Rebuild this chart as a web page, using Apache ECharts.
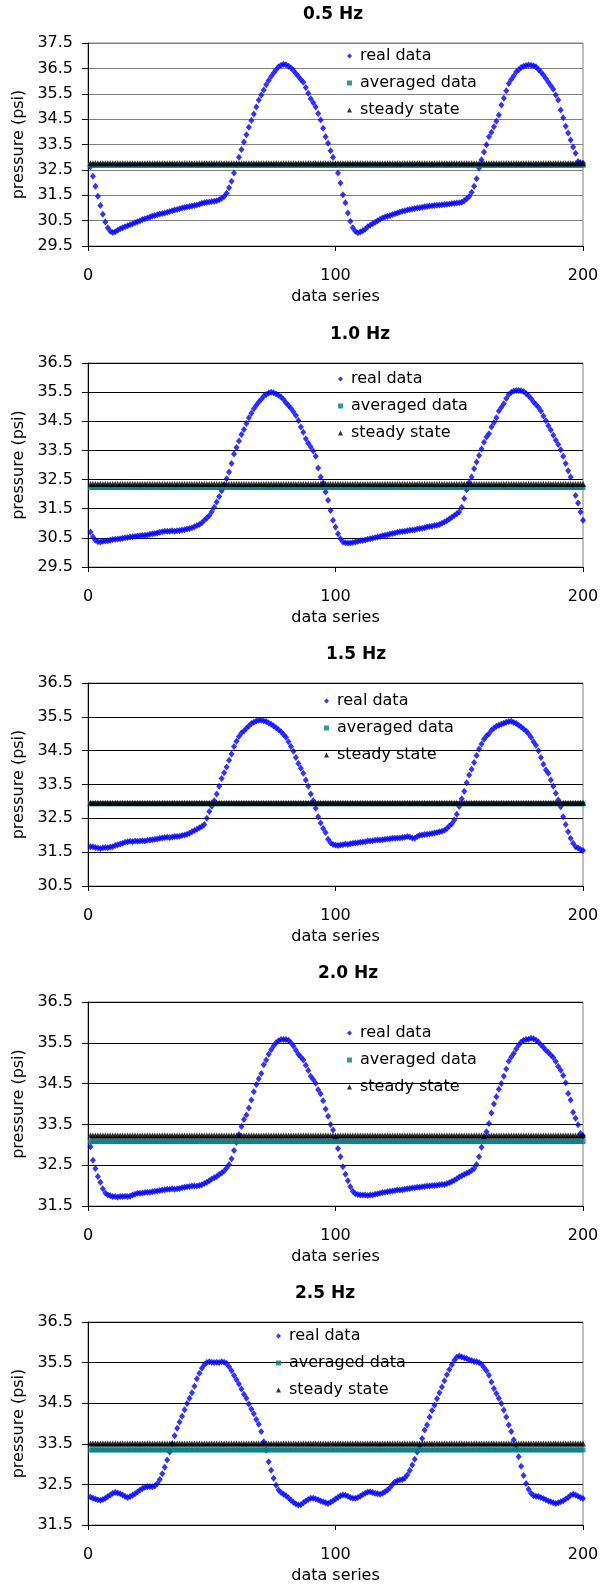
<!DOCTYPE html>
<html><head><meta charset="utf-8">
<script src="https://cdn.jsdelivr.net/npm/echarts@6/dist/echarts.min.js"></script>
<style>html,body{margin:0;padding:0;background:#fff}#c{width:602px;height:1589px}</style>
</head><body><div id="c"></div>
<script>
const titles = ['0.5 Hz', '1.0 Hz', '1.5 Hz', '2.0 Hz', '2.5 Hz'];
const yMins = [29.5, 29.5, 30.5, 31.5, 31.5];
const yMaxs = [37.5, 36.5, 36.5, 36.5, 36.5];
const xMin = 0, xMax = 200, xStep = 100;
const steadyLevels = [32.76, 32.35, 32.96, 33.23, 33.51];
const averagedLevels = [32.68, 32.23, 32.93, 33.08, 33.35];

const real05 = [
32.62,32.25,31.85,31.46,31.10,30.75,30.45,30.22,30.08,30.03,
30.06,30.12,30.18,30.22,30.26,30.30,30.34,30.38,30.42,30.46,
30.50,30.54,30.57,30.60,30.64,30.68,30.70,30.73,30.76,30.78,
30.80,30.83,30.86,30.89,30.92,30.94,30.97,31.00,31.02,31.04,
31.06,31.08,31.10,31.12,31.15,31.18,31.20,31.22,31.23,31.25,
31.26,31.28,31.32,31.38,31.45,31.58,31.80,32.05,32.38,32.70,
33.00,33.30,33.60,33.88,34.18,34.45,34.70,34.98,35.25,35.45,
35.65,35.85,36.02,36.18,36.32,36.45,36.56,36.62,36.66,36.64,
36.58,36.52,36.42,36.30,36.18,36.06,35.95,35.75,35.52,35.30,
35.15,34.98,34.72,34.47,34.14,33.81,33.55,33.25,33.00,32.70,
32.38,31.98,31.52,31.20,30.80,30.48,30.22,30.08,30.02,30.05,
30.10,30.16,30.26,30.32,30.38,30.44,30.50,30.55,30.60,30.64,
30.67,30.70,30.74,30.77,30.80,30.84,30.87,30.89,30.92,30.94,
30.96,30.98,31.00,31.01,31.03,31.05,31.06,31.08,31.09,31.10,
31.11,31.12,31.13,31.14,31.15,31.16,31.17,31.18,31.19,31.20,
31.22,31.28,31.36,31.45,31.62,31.85,32.15,32.57,32.90,33.20,
33.49,33.81,33.98,34.20,34.42,34.66,35.06,35.32,35.62,35.90,
36.06,36.20,36.36,36.45,36.53,36.58,36.61,36.63,36.62,36.60,
36.56,36.46,36.36,36.24,36.10,35.95,35.82,35.68,35.45,35.25,
34.86,34.55,34.22,33.95,33.68,33.40,33.16,32.83,32.78,32.76];

const real10 = [
30.70,30.53,30.42,30.37,30.36,30.38,30.39,30.40,30.42,30.44,
30.45,30.46,30.47,30.49,30.50,30.51,30.53,30.54,30.55,30.56,
30.57,30.58,30.59,30.60,30.62,30.64,30.65,30.67,30.69,30.71,
30.73,30.73,30.73,30.74,30.73,30.74,30.75,30.77,30.78,30.80,
30.82,30.85,30.88,30.92,30.96,31.02,31.10,31.18,31.27,31.40,
31.55,31.73,31.92,32.12,32.32,32.53,32.76,33.05,33.38,33.60,
33.82,34.05,34.22,34.42,34.62,34.78,34.93,35.05,35.16,35.26,
35.36,35.42,35.47,35.50,35.48,35.44,35.39,35.33,35.25,35.14,
35.04,34.95,34.83,34.70,34.53,34.30,34.12,33.90,33.75,33.62,
33.48,33.30,32.90,32.59,32.38,32.07,31.79,31.44,31.10,30.87,
30.64,30.47,30.36,30.33,30.32,30.32,30.34,30.36,30.38,30.40,
30.41,30.43,30.45,30.47,30.49,30.51,30.53,30.55,30.57,30.59,
30.61,30.63,30.65,30.67,30.69,30.71,30.72,30.73,30.74,30.76,
30.77,30.78,30.80,30.82,30.83,30.85,30.87,30.89,30.90,30.92,
30.93,30.96,31.00,31.04,31.09,31.15,31.21,31.27,31.33,31.39,
31.55,31.85,32.15,32.40,32.59,32.87,33.10,33.33,33.55,33.78,
33.96,34.07,34.30,34.45,34.62,34.85,34.98,35.10,35.28,35.42,
35.50,35.54,35.56,35.56,35.55,35.52,35.45,35.38,35.28,35.16,
35.08,34.98,34.85,34.68,34.52,34.35,34.20,34.02,33.85,33.70,
33.52,33.30,33.05,32.80,32.59,32.25,31.95,31.70,31.39,31.10];

const real15 = [
31.66,31.66,31.64,31.62,31.61,31.63,31.64,31.63,31.65,31.66,
31.70,31.72,31.74,31.76,31.79,31.81,31.82,31.81,31.83,31.82,
31.83,31.84,31.83,31.85,31.86,31.87,31.88,31.89,31.91,31.92,
31.93,31.94,31.93,31.95,31.96,31.96,31.97,31.99,32.01,32.03,
32.06,32.10,32.14,32.18,32.22,32.26,32.32,32.50,32.70,32.86,
33.02,33.22,33.45,33.68,33.85,34.02,34.22,34.40,34.62,34.78,
34.92,35.02,35.08,35.16,35.23,35.30,35.34,35.38,35.40,35.40,
35.38,35.36,35.32,35.28,35.23,35.18,35.12,35.06,34.98,34.90,
34.76,34.62,34.48,34.30,34.12,33.98,33.83,33.63,33.45,33.22,
33.02,32.80,32.55,32.36,32.20,32.08,31.88,31.78,31.73,31.71,
31.70,31.71,31.72,31.74,31.73,31.75,31.76,31.77,31.78,31.79,
31.80,31.81,31.83,31.83,31.84,31.85,31.86,31.86,31.87,31.88,
31.89,31.90,31.91,31.91,31.92,31.92,31.93,31.94,31.96,31.95,
31.92,31.91,31.96,32.00,32.01,32.02,32.03,32.04,32.05,32.07,
32.08,32.10,32.12,32.15,32.20,32.27,32.34,32.45,32.62,32.85,
33.08,33.30,33.55,33.78,33.95,34.15,34.36,34.55,34.70,34.84,
34.93,35.00,35.10,35.16,35.22,35.25,35.28,35.31,35.34,35.36,
35.37,35.33,35.30,35.25,35.20,35.14,35.08,35.00,34.90,34.76,
34.66,34.50,34.30,34.10,33.93,33.83,33.63,33.45,33.24,33.04,
32.84,32.55,32.32,32.10,31.91,31.76,31.66,31.62,31.58,31.55];

const real20 = [
32.95,32.62,32.42,32.22,32.08,31.92,31.82,31.77,31.75,31.73,
31.73,31.72,31.73,31.73,31.74,31.73,31.74,31.77,31.79,31.81,
31.81,31.82,31.83,31.84,31.84,31.85,31.86,31.87,31.88,31.89,
31.90,31.91,31.91,31.92,31.91,31.92,31.93,31.95,31.96,31.97,
31.98,31.99,31.99,31.99,32.00,32.02,32.05,32.08,32.12,32.16,
32.19,32.22,32.27,32.31,32.36,32.43,32.52,32.66,32.86,33.06,
33.25,33.45,33.62,33.73,33.90,34.10,34.30,34.48,34.62,34.75,
34.96,35.08,35.22,35.33,35.42,35.50,35.55,35.58,35.58,35.58,
35.56,35.50,35.42,35.32,35.22,35.15,35.08,34.95,34.82,34.68,
34.60,34.51,34.35,34.25,34.08,33.88,33.70,33.50,33.36,33.16,
32.91,32.71,32.46,32.28,32.12,31.97,31.86,31.80,31.78,31.77,
31.77,31.77,31.76,31.77,31.77,31.79,31.80,31.81,31.83,31.84,
31.85,31.86,31.87,31.88,31.89,31.89,31.90,31.91,31.92,31.93,
31.94,31.95,31.96,31.96,31.97,31.98,31.99,31.99,32.00,32.00,
32.01,32.02,32.03,32.03,32.05,32.07,32.10,32.13,32.17,32.21,
32.24,32.27,32.30,32.33,32.37,32.42,32.52,32.71,32.94,33.16,
33.32,33.52,33.78,34.00,34.18,34.36,34.50,34.68,34.86,35.05,
35.15,35.24,35.35,35.44,35.52,35.56,35.58,35.59,35.61,35.60,
35.57,35.52,35.45,35.39,35.32,35.26,35.20,35.14,35.04,34.92,
34.83,34.70,34.52,34.26,34.10,33.80,33.65,33.49,33.28,33.22];

const real25 = [
32.19,32.16,32.14,32.12,32.11,32.13,32.16,32.20,32.24,32.28,
32.30,32.29,32.27,32.24,32.20,32.18,32.20,32.23,32.27,32.31,
32.36,32.40,32.43,32.44,32.45,32.44,32.46,32.52,32.62,32.76,
32.92,33.10,33.30,33.50,33.70,33.88,34.04,34.18,34.34,34.49,
34.62,34.76,34.92,35.10,35.24,35.36,35.45,35.50,35.52,35.51,
35.50,35.51,35.50,35.52,35.51,35.48,35.40,35.30,35.18,35.08,
34.97,34.85,34.72,34.62,34.48,34.36,34.24,34.10,33.98,33.80,
33.55,33.34,33.06,32.85,32.65,32.48,32.36,32.30,32.26,32.22,
32.17,32.11,32.06,32.02,31.99,32.00,32.05,32.09,32.13,32.16,
32.16,32.14,32.12,32.09,32.07,32.05,32.03,32.06,32.10,32.14,
32.18,32.22,32.24,32.23,32.21,32.18,32.16,32.16,32.18,32.21,
32.25,32.28,32.31,32.32,32.30,32.28,32.27,32.26,32.28,32.32,
32.36,32.42,32.50,32.56,32.59,32.61,32.62,32.66,32.73,32.84,
32.98,33.12,33.30,33.45,33.63,33.84,33.96,34.16,34.32,34.45,
34.61,34.76,34.90,35.05,35.20,35.33,35.45,35.56,35.63,35.66,
35.64,35.62,35.60,35.57,35.55,35.53,35.52,35.50,35.46,35.38,
35.30,35.19,35.02,34.86,34.74,34.62,34.49,34.33,34.16,33.96,
33.80,33.60,33.38,33.18,32.95,32.72,32.52,32.38,32.28,32.22,
32.21,32.20,32.18,32.15,32.12,32.09,32.07,32.05,32.03,32.05,
32.07,32.10,32.14,32.18,32.23,32.26,32.24,32.21,32.18,32.15];

const realSeries = [real05, real10, real15, real20, real25];

// layout (pixels)
const FONT = 'DejaVu Sans';
const gridTop = [43, 363, 683, 1002, 1322];
const gridH = [203, 204, 203, 204, 203];
const titleLeft = [303, 330, 326, 318, 295];
const legendLeft = [347, 338, 324, 347, 276];
const legendTop = [48, 371, 693, 1025, 1328];
const gridColor = ['#808080', '#000', '#000', '#000', '#000'];

const grid = [], xAxis = [], yAxis = [], title = [], legend = [], series = [];
for (let p = 0; p < 5; p++) {
  grid.push({left: 88, right: 19, top: gridTop[p], height: gridH[p], show: true,
    borderColor: '#808080', borderWidth: 1, backgroundColor: 'transparent'});
  title.push({text: titles[p], left: titleLeft[p], top: gridTop[p] - 37, padding: 0,
    textStyle: {fontFamily: FONT, fontSize: 17, fontWeight: 'bold', color: '#000', lineHeight: 17}});
  xAxis.push({type: 'value', gridIndex: p, min: xMin, max: xMax, interval: xStep,
    name: 'data series', nameLocation: 'middle', nameGap: 43,
    nameTextStyle: {fontFamily: FONT, fontSize: 16, color: '#000', lineHeight: 16},
    axisLine: {show: true, onZero: false, lineStyle: {color: '#000', width: 1}},
    axisTick: {show: true, inside: false, length: 5, lineStyle: {color: '#000'}},
    axisLabel: {fontFamily: FONT, fontSize: 16, color: '#000', margin: 22, lineHeight: 16},
    splitLine: {show: false}});
  yAxis.push({type: 'value', gridIndex: p, min: yMins[p], max: yMaxs[p], interval: 1,
    name: 'pressure (psi)', nameLocation: 'middle', nameGap: 56, nameRotate: 90,
    nameTextStyle: {fontFamily: FONT, fontSize: 16, color: '#000', lineHeight: 16},
    axisLine: {show: true, onZero: false, lineStyle: {color: '#000', width: 1}},
    axisTick: {show: true, inside: false, length: 6, lineStyle: {color: '#000'}},
    axisLabel: {fontFamily: FONT, fontSize: 16, color: '#000', margin: 15,
      formatter: v => v.toFixed(1)},
    splitLine: {show: true, lineStyle: {color: gridColor[p], width: 1}}});
  legend.push({orient: 'vertical', left: legendLeft[p], top: legendTop[p], padding: 0,
    itemWidth: 5, itemHeight: 5, itemGap: 11, selectedMode: false,
    textStyle: {fontFamily: FONT, fontSize: 16, color: '#000', lineHeight: 16, padding: [0, 0, 0, 3]},
    data: [{name: 'real data', icon: 'diamond'}, {name: 'averaged data', icon: 'rect'},
           {name: 'steady state', icon: 'triangle'}]});
  const real = realSeries[p];
  series.push({type: 'scatter', name: 'real data', xAxisIndex: p, yAxisIndex: p,
    symbol: 'diamond', symbolSize: [6, 7], itemStyle: {color: '#0000ff'}, z: 2,
    data: real.map((v, i) => [i + 1, v])});
  series.push({type: 'scatter', name: 'averaged data', xAxisIndex: p, yAxisIndex: p,
    symbol: 'rect', symbolSize: 5, itemStyle: {color: '#008080'}, z: 3,
    data: real.map((v, i) => [i + 1, averagedLevels[p]])});
  series.push({type: 'scatter', name: 'steady state', xAxisIndex: p, yAxisIndex: p,
    symbol: 'triangle', symbolSize: 6, itemStyle: {color: '#000'}, z: 4,
    data: real.map((v, i) => [i + 1, steadyLevels[p]])});
}

const chart = echarts.init(document.getElementById('c'), null, {renderer: 'canvas'});
chart.setOption({animation: false, backgroundColor: '#fff', grid, xAxis, yAxis, title, legend, series});
</script>
</body></html>
